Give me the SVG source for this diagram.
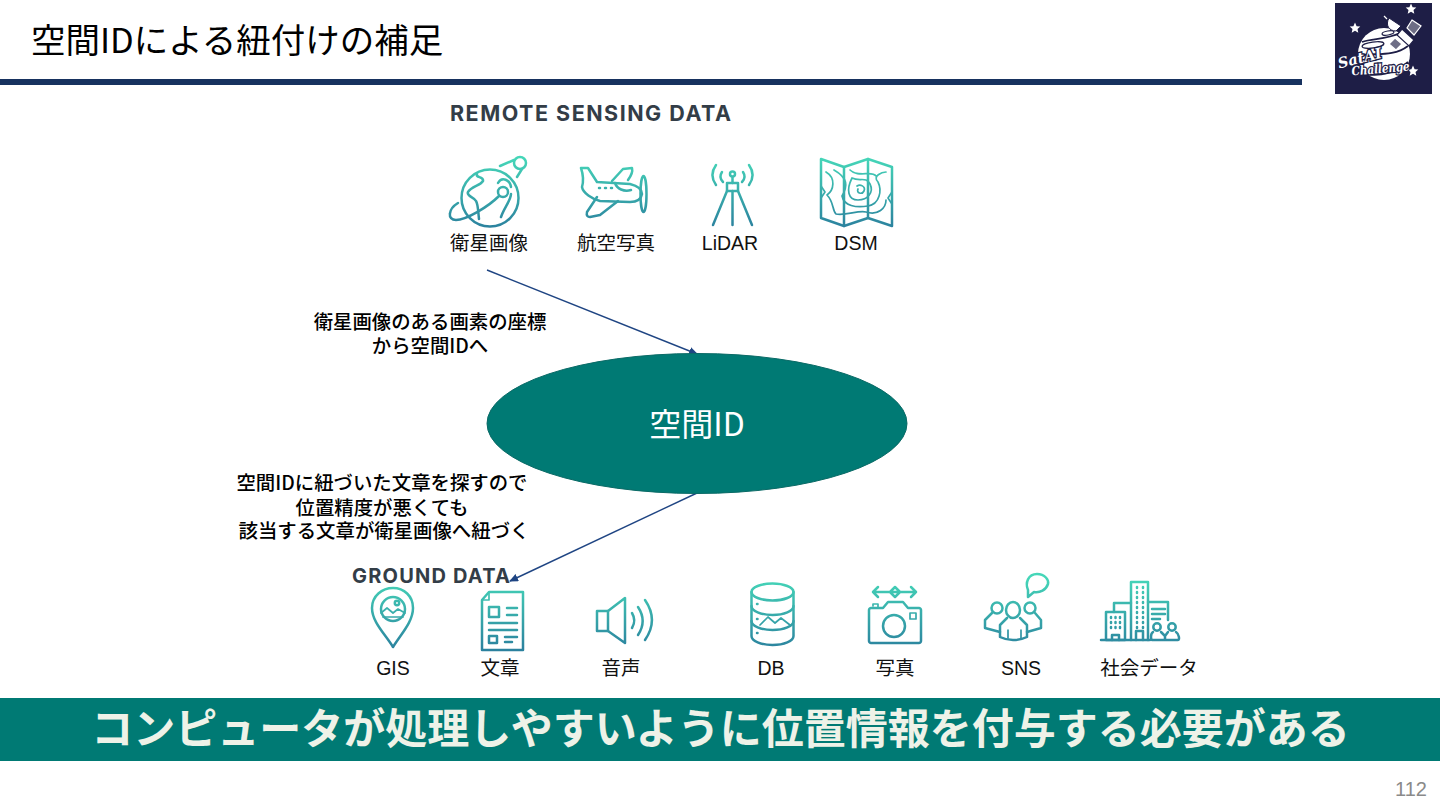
<svg xmlns="http://www.w3.org/2000/svg" width="1440" height="810" viewBox="0 0 1440 810">
<style>
text{font-family:"Noto Sans CJK JP","Noto Sans",sans-serif;fill:#000}
.lat{font-family:"Liberation Sans","Noto Sans",sans-serif}
.lb{font-size:19.4px;text-anchor:middle;font-weight:500}
.il{font-size:19.5px;text-anchor:middle;fill:#111}
.sec{font-family:"Inter","Liberation Sans",sans-serif;font-weight:700;fill:#333d47}
.top{fill:none;stroke:url(#gt);stroke-width:2.5;stroke-linecap:round;stroke-linejoin:round}
.bot{fill:none;stroke:url(#gb);stroke-width:2.5;stroke-linecap:round;stroke-linejoin:round}
.thin{stroke-width:1.7}
.c{fill:none;stroke:#1f4583;stroke-width:1.4}
.sc{font-family:"DejaVu Serif",serif;font-style:italic;font-weight:700;text-anchor:middle;fill:#fff;stroke:#1e1e46;stroke-width:2.6;paint-order:stroke}
</style>
<defs>
<linearGradient id="gt" gradientUnits="userSpaceOnUse" x1="0" y1="158" x2="0" y2="228"><stop offset="0" stop-color="#45d6b8"/><stop offset="1" stop-color="#2b819e"/></linearGradient>
<linearGradient id="gb" gradientUnits="userSpaceOnUse" x1="0" y1="578" x2="0" y2="650"><stop offset="0" stop-color="#45d6b8"/><stop offset="1" stop-color="#2b819e"/></linearGradient>
<marker id="ah" markerWidth="9" markerHeight="8" refX="8" refY="4" orient="auto" markerUnits="userSpaceOnUse"><path d="M0 0L9 4L0 8Z" fill="#1f4583"/></marker>
<path id="star" d="M0-5.500L1.600-1.800L5.300-1.500L2.500 1L3.300 4.800L0 2.800L-3.300 4.800L-2.500 1L-5.300-1.500L-1.600-1.800Z" fill="#fff"/>
</defs>
<rect width="1440" height="810" fill="#fff"/>
<g id="header">
<text x="31" y="53" font-size="34.500">空間IDによる紐付けの補足</text>
<rect x="0" y="79" width="1302" height="6" fill="#17325f"/>
</g>
<g id="logo">
<rect x="1335" y="3" width="97" height="91" fill="#1e1e46"/>
<circle cx="1384" cy="54" r="26" fill="#fff"/>
<path d="M1362 42C1372 38 1386 40 1400 33M1359 56C1372 52 1392 58 1408 46M1366 74C1380 77 1398 72 1408 62" fill="none" stroke="#1e1e46" stroke-width="1.800"/>
<ellipse cx="1373" cy="45" rx="11" ry="3" fill="none" stroke="#1e1e46" stroke-width="1.300" transform="rotate(-8 1373 45)"/>
<ellipse cx="1388" cy="33" rx="6" ry="2" fill="none" stroke="#1e1e46" stroke-width="1.200" transform="rotate(-10 1388 33)"/>
<path d="M1389 18L1401 26L1396 31C1389 31 1385 25 1389 18Z" fill="#fff" stroke="#1e1e46"/>
<path d="M1387 19L1384 16" stroke="#fff" stroke-width="1.300"/>
<path d="M1402 29L1414 40L1409 46L1397 35Z" fill="#fff" stroke="#1e1e46" stroke-width="1.200"/>
<path d="M1412 20L1421 26L1414 35L1407 28Z" fill="#6d6d85" stroke="#fff" stroke-width="1.200"/>
<path d="M1395 38L1402 44L1396 50L1389 44Z" fill="#6d6d85" stroke="#fff" stroke-width="1.200"/>
<use href="#star" x="1411" y="9"/>
<use href="#star" x="1355" y="28"/>
<use href="#star" x="1413" y="71"/>
<text x="1361" y="63" font-size="14.500" class="sc" transform="rotate(-14 1361 63)">SatAI</text>
<text x="1381" y="73" font-size="12.500" class="sc" textLength="58" lengthAdjust="spacingAndGlyphs" transform="rotate(-5 1381 73)">Challenge</text>
</g>
<text x="450" y="121" font-size="21.500" class="sec" letter-spacing="1.500">REMOTE SENSING DATA</text>
<g id="icon-satellite" class="top">
<circle cx="490" cy="198" r="28.500"/>
<circle cx="503" cy="192" r="5"/>
<circle cx="520" cy="163" r="6"/>
<path d="M500 166L514 160M522 169L517 177"/>
<path d="M499 196C488 207 466 220 456 220C447 220 448 209 458 203"/>
<path d="M477 174C475 178 484 176 483 181C480 186 472 186 468 192C466 196 474 197 476 201C478 204 478 210 479 219M498 183C502 176 510 180 511 187M511 194C511 200 504 208 501 217"/>
</g>
<g id="label-satellite"><text x="489" y="250" class="il">衛星画像</text></g>
<g id="icon-plane" class="top">
<path d="M581 168H588L597 182L630 184C638 186 642 190 642 194C641 200 637 202 630 202L600 201C592 199 583 193 582 187C584 180 583 174 581 168Z"/>
<path d="M597 197L587 212C586 216 588 217 590 217L600 215L618 201"/>
<path d="M612 181L623 169L632 168C633 172 631 176 628 180"/>
<path d="M615 183C617 189 624 192 631 190"/>
<ellipse cx="643.500" cy="194" rx="3" ry="18"/>
<path d="M599 188h1M605 188h1M611 188h1"/>
</g>
<g id="label-plane"><text x="616" y="250" class="il">航空写真</text></g>
<g id="icon-lidar" class="top">
<rect x="727" y="183" width="11" height="8"/>
<circle cx="732.500" cy="174" r="2.500"/>
<path d="M732.500 177V183M727 191L713 225M732.500 191V225M738 191L752 225"/>
<path d="M722 172C720 175 720 179 723 182M743 172C745 175 745 179 742 182M716 165C711 172 711 178 716 185M749 165C754 172 754 178 749 185"/>
</g>
<g id="label-lidar"><text x="730" y="250" class="il lat">LiDAR</text></g>
<g id="icon-dsm" class="top">
<path d="M821 159L844 167L868 159L892 167V226L868 218L844 226L821 218Z"/>
<path d="M844 167V226M868 159V218"/>
<path d="M821 186L825 192L821 198M892 192L888 198L892 204" class="thin"/>
<path class="thin" d="M826 172C836 178 834 190 827 195C834 202 832 210 836 214C846 216 858 210 866 212C878 216 886 208 886 200M834 170C848 178 848 186 842 196C844 206 856 208 868 206C880 204 882 190 878 182C872 176 882 172 886 172M850 170C858 178 872 170 876 176M852 178C860 182 866 176 870 184C874 192 868 200 858 200C848 200 846 190 852 178M857 186C860 184 866 186 864 191C862 195 856 193 858 189"/>
</g>
<g id="label-dsm"><text x="856" y="250" class="il lat">DSM</text></g>
<g id="connectors">
<path class="c" d="M487 270L697 354" marker-end="url(#ah)"/>
<path class="c" d="M697 493L510 581" marker-end="url(#ah)"/>
</g>
<text class="lb"><tspan x="430" y="329">衛星画像のある画素の座標</tspan><tspan x="430" y="353">から空間IDへ</tspan></text>
<g id="node-spatial-id">
<ellipse cx="697" cy="423.500" rx="210" ry="70" fill="#007a74" stroke="#0a6a66" stroke-width="1"/>
<text x="697" y="436" font-size="32" text-anchor="middle" style="fill:#fff">空間ID</text>
</g>
<text class="lb"><tspan x="382" y="490">空間IDに紐づいた文章を探すので</tspan><tspan x="382" y="515">位置精度が悪くても</tspan><tspan x="384" y="538">該当する文章が衛星画像へ紐づく</tspan></text>
<text x="352" y="583" font-size="20" class="sec" letter-spacing="1.200">GROUND DATA</text>
<g id="icon-gis" class="bot">
<path d="M393 647C385 634 372 622 372 608C372 596 382 588 393 588C404 588 413 596 413 608C413 622 401 634 393 647Z"/>
<circle cx="393" cy="609" r="12"/>
<circle cx="397" cy="603" r="2.200"/>
<path class="thin" d="M381 613L387 608L393 613L398 609L405 613M383 617H403"/>
</g>
<g id="label-gis"><text x="393" y="675" class="il lat">GIS</text></g>
<g id="icon-doc" class="bot">
<path d="M482 600L489 592H523V650H482Z"/>
<path class="thin" d="M482 600H489V592"/>
<rect x="489" y="607" width="10" height="10"/>
<path d="M507 608H517M507 615H517M489 623H517M489 630H517M505 637H517M505 642H512"/>
<rect x="489" y="636" width="8" height="7"/>
</g>
<g id="label-doc"><text x="500" y="675" class="il">文章</text></g>
<g id="icon-audio" class="bot">
<rect x="597" y="611" width="11" height="20"/>
<path d="M608 611L625 598V643L608 631"/>
<path d="M632 613C635 618 635 623 632 628M638 607C644 616 644 626 638 635M645 600C654 613 654 627 645 640"/>
</g>
<g id="label-audio"><text x="621" y="675" class="il">音声</text></g>
<g id="icon-db" class="bot">
<ellipse cx="772.500" cy="592" rx="21" ry="8.500"/>
<path d="M751.500 592V636C751.500 641 761 645 772.500 645C784 645 793.500 641 793.500 636V592"/>
<path d="M751.500 606C751.500 611 761 615 772.500 615C784 615 793.500 611 793.500 606M751.500 621C751.500 626 761 630 772.500 630C784 630 793.500 626 793.500 621"/>
<path class="thin" d="M760 625L768 617L775 623L781 618L790 625"/>
<path d="M757 604h.5M757 619h.5M757 633h.5"/>
</g>
<g id="label-db"><text x="771" y="675" class="il lat">DB</text></g>
<g id="icon-camera" class="bot">
<path d="M871 608H883L888 602H903L908 608H919C920 608 921 609 921 610V641C921 642 920 643 919 643H871C870 643 869 642 869 641V610C869 609 870 608 871 608Z"/>
<circle cx="894" cy="626" r="11"/>
<rect x="910" y="613" width="6" height="6" class="thin"/>
<path class="thin" d="M873 606V604H878V608"/>
<path d="M873 592H916M878 587L873 592L878 597M911 587L916 592L911 597M895 587L900 592L895 597M895 587L890 592L895 597"/>
</g>
<g id="label-camera"><text x="895" y="675" class="il">写真</text></g>
<g id="icon-sns" class="bot">
<path d="M1028 590C1025 583 1028 574 1037 574C1045 574 1049 580 1048 584C1046 590 1040 593 1034 592L1028 597Z"/>
<ellipse cx="1013" cy="610" rx="7" ry="8"/>
<circle cx="997" cy="608" r="5.500"/>
<circle cx="1030" cy="608" r="5.500"/>
<path d="M1007 618L1000 625V637C1004 639 1009 640 1013 640C1018 640 1023 639 1027 637V625L1020 618"/>
<path d="M992 613L985 620V628L1000 632M1035 613L1041 620V628L1027 632"/>
<path class="thin" d="M1008 630V638M1021 630V638"/>
</g>
<g id="label-sns"><text x="1021" y="675" class="il lat">SNS</text></g>
<g id="icon-city" class="bot">
<path d="M1101 640H1150"/>
<path d="M1131 640V582H1148V640"/>
<rect x="1106" y="612" width="19" height="28"/>
<path d="M1114 612V603H1131"/>
<path d="M1148 602H1168V620"/>
<path d="M1152 609H1165M1152 614H1165M1152 619H1160"/>
<path stroke-dasharray="1 4" d="M1137 587V628M1143 587V628M1111 617V632M1115.500 617V632M1120 617V632"/>
<path d="M1136 640V631H1143V640M1112 640V635H1119V640"/>
<circle cx="1157" cy="627" r="3.700"/><circle cx="1172" cy="627" r="3.700"/>
<path d="M1153 632C1150 634 1151 640 1152 640H1178C1180 640 1179 634 1176 632M1161 632L1165 636L1168 632M1165 636V640"/>
</g>
<g id="label-city"><text x="1149" y="675" class="il">社会データ</text></g>
<g id="banner">
<rect x="0" y="698" width="1440" height="63" fill="#007a74"/>
<text x="720.500" y="744" font-size="42" font-weight="700" text-anchor="middle" style="fill:#eef2e8">コンピュータが処理しやすいように位置情報を付与する必要がある</text>
</g>
<text x="1411" y="796" font-size="20" text-anchor="middle" class="lat" style="fill:#8a8a8a">112</text>
</svg>
